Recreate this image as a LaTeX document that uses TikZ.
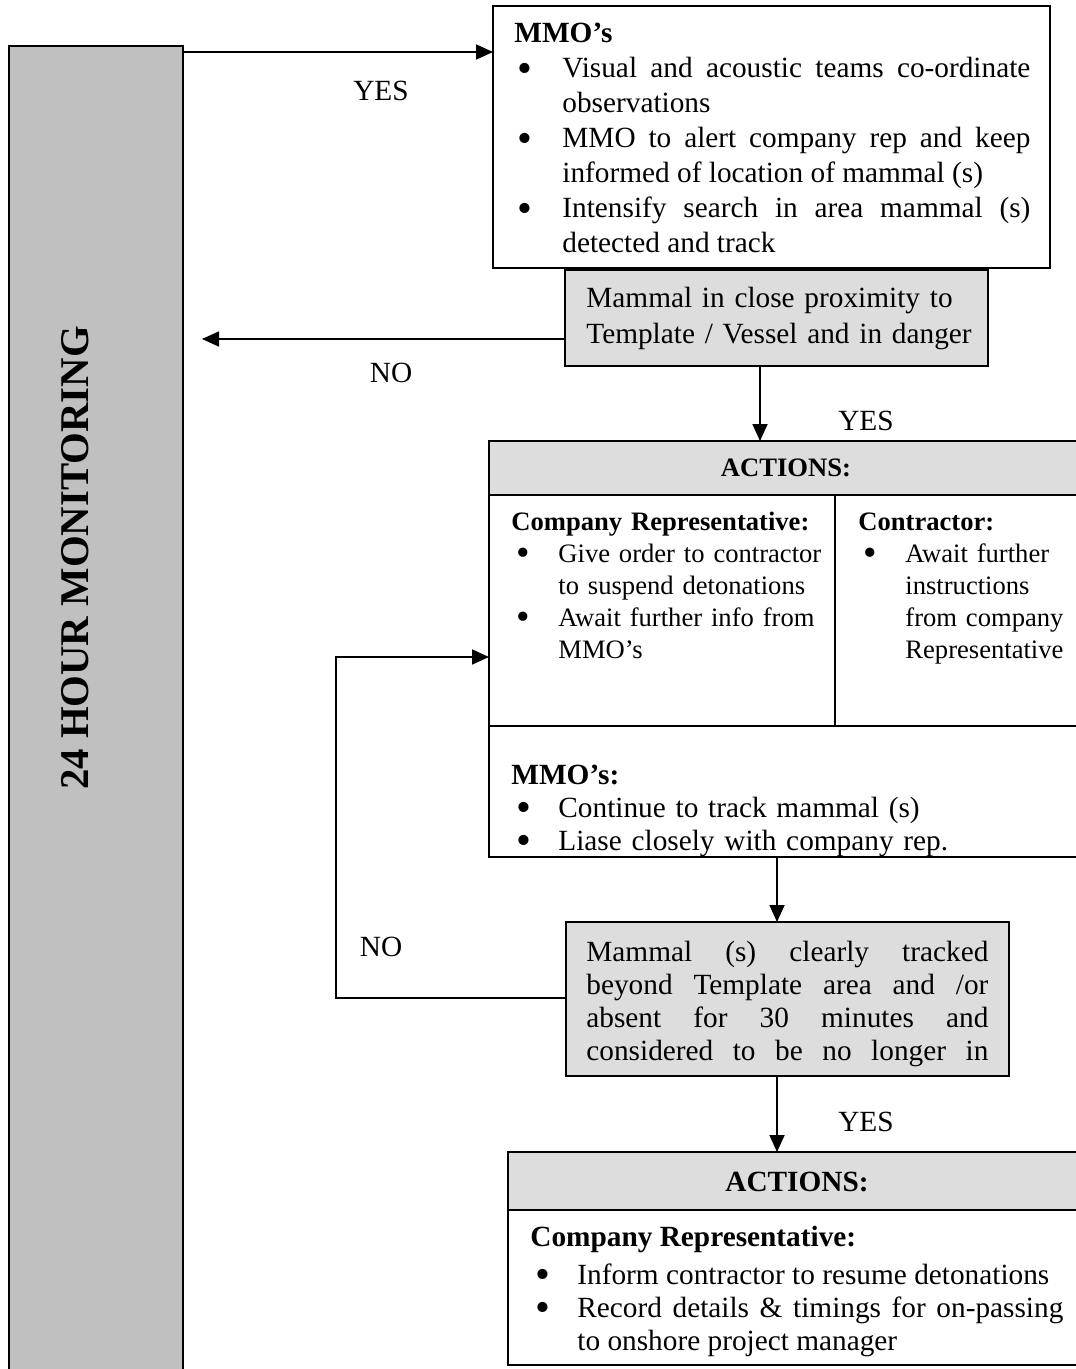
\documentclass[tikz,border=0pt]{standalone}
\usepackage{fontspec}
\usepackage{graphicx}
\setmainfont{Liberation Serif}
\usetikzlibrary{arrows.meta}
\definecolor{bargray}{HTML}{C0C0C0}
\definecolor{boxgray}{HTML}{DDDDDD}
\newlength\bulind
\newlength\bulpre
\newcommand{\bodyfont}{\fontsize{14.65pt}{16.5pt}\selectfont}
\newcommand{\mmofont}{\fontsize{14.65pt}{17.5pt}\selectfont}
\newcommand{\smallbody}{\fontsize{13.3pt}{16pt}\selectfont}
\newcommand{\bigbold}{\fontsize{20.4pt}{24pt}\selectfont\bfseries}
\newcommand{\bigdot}{\smash{\raisebox{-0.14em}{\scalebox{1.45}{\textbullet}}}}
\newcommand{\bitem}{\par\noindent\hangindent=\bulind\hangafter=1\hbox to\bulind{\hskip\bulpre\bigdot\hfil}\ignorespaces}
\begin{document}
\begin{tikzpicture}[x=0.5pt,y=-0.5pt,
  sz/.style 2 args={minimum width=#1*0.5pt,minimum height=#2*0.5pt,inner sep=0pt,outer sep=0pt},
  box/.style={draw=black,line width=1pt,fill=white,anchor=north west},
  graybox/.style={box,fill=boxgray},
  barbox/.style={box,fill=bargray},
  txt/.style={inner sep=0pt,anchor=base west,font=\bodyfont},
  lbl/.style={inner sep=0pt,font=\bodyfont},
  arr/.style={line width=0.9pt,-{Triangle[length=8.5pt,width=7.5pt]}},
  rule/.style={line width=1pt}]
\useasboundingbox (0,0) rectangle (1075,1369);
\fill[white] (0,0) rectangle (1075,1369);
% left bar
\node[barbox,sz={174}{1340}] (bar) at (9,46) {};
\node[inner sep=0pt,rotate=90,font=\bigbold] (mon) at (75,558) {24 HOUR MONITORING};
% MMO box
\node[box,sz={557}{262}] (mmo) at (493,6) {};
\setlength\bulind{24pt}\setlength\bulpre{1.5pt}
\node[txt,font=\mmofont,text width=258pt,align=justify] (mmotext) at (514,43) {%
\textbf{MMO’s}
\bitem Visual and acoustic teams co-ordinate\linebreak observations
\bitem MMO to alert company rep and keep\linebreak informed of location of mammal (s)
\bitem Intensify search in area mammal (s)\linebreak detected and track\par};
% decision 1
\node[graybox,sz={423}{96}] (g1) at (565,270) {};
\node[txt,font=\mmofont,text width=200pt,align=left] (g1text) at (586,308) {Mammal in close proximity to\newline Template / Vessel and in danger\par};
% actions 1
\node[box,sz={600}{416}] (act1) at (489,441) {};
\node[graybox,sz={600}{54}] (hdr1) at (489,441) {};
\node[lbl,font=\smallbody\bfseries] (hdr1text) at (786,468) {ACTIONS:};
\draw[rule] (835,495) coordinate (dv1) -- (835,726) coordinate (dv2);
\draw[rule] (489,726) coordinate (hz1) -- (1089,726) coordinate (hz2);
\setlength\bulind{23.5pt}\setlength\bulpre{2.5pt}
\node[txt,font=\smallbody,text width=159.5pt,align=left] (col1) at (511,530) {%
\textbf{Company Representative:}
\bitem Give order to contractor\newline to suspend detonations
\bitem Await further info from\newline MMO’s\par};
\node[txt,font=\smallbody,text width=108.5pt,align=left] (col2) at (858,530) {%
\textbf{Contractor:}
\bitem Await further\newline instructions\newline from company\newline Representative\par};
\node[txt,text width=250pt,align=left] (mmo2) at (511,784) {%
\textbf{MMO’s:}
\bitem Continue to track mammal (s)
\bitem Liase closely with company rep.\par};
% decision 2
\node[graybox,sz={443}{154}] (g2) at (566,922) {};
\node[txt,text width=201pt,align=justify] (g2text) at (586,961) {\parfillskip=0pt
Mammal (s) clearly tracked\linebreak beyond Template area and /or\linebreak absent for 30 minutes and\linebreak considered to be no longer in\par};
% actions 2
\node[box,sz={580}{213}] (act2) at (508,1152) {};
\node[graybox,sz={580}{58}] (hdr2) at (508,1152) {};
\node[lbl,font=\bodyfont\bfseries] (hdr2text) at (797,1182) {ACTIONS:};
\setlength\bulind{23.5pt}\setlength\bulpre{2.5pt}
\node[txt,text width=266.5pt,align=justify] (act2text) at (530,1246) {%
\textbf{Company Representative:}\par\vspace{2.5pt}
\bitem Inform contractor to resume detonations
\bitem Record details \& timings for on-passing\linebreak to onshore project manager\par};
% connectors
\coordinate (c1) at (183,52);
\draw[arr] (c1) -- (c1 -| mmo.west);
\node[lbl] (yes1) at (381,91) {YES};
\coordinate (n1) at (565,339);
\coordinate (n1e) at (202,339);
\draw[arr] (n1) -- (n1e);
\node[lbl] (no1) at (391,373) {NO};
\coordinate (d1) at (760,366);
\draw[arr] (d1) -- (d1 |- act1.north);
\node[lbl] (yes2) at (866,421) {YES};
\coordinate (l1) at (566,998);
\coordinate (lp) at (336,657);
\draw[arr] (l1) -| (lp) -- (lp -| act1.west);
\node[lbl] (no2) at (381,947) {NO};
\coordinate (d2) at (777,857);
\draw[arr] (d2) -- (d2 |- g2.north);
\coordinate (d3) at (777,1076);
\draw[arr] (d3) -- (d3 |- act2.north);
\node[lbl] (yes3) at (866,1122) {YES};
\end{tikzpicture}
\end{document}
